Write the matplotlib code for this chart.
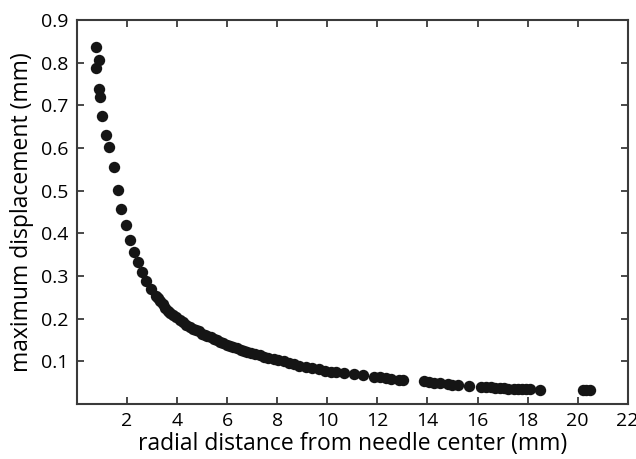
import matplotlib
matplotlib.use("Agg")
import matplotlib.pyplot as plt
import numpy as np

# radial distance from needle center (mm)
radial_mm = [
    0.75, 0.89, 0.76, 0.87, 0.91, 1.01, 1.15, 1.29, 1.48, 1.62, 1.76,
    1.94, 2.10, 2.26, 2.44, 2.58, 2.77, 2.97, 3.15, 3.25, 3.33, 3.43,
    3.53, 3.63, 3.73, 3.85, 3.97, 4.10, 4.24, 4.37, 4.50, 4.62, 4.75,
    4.86, 5.00, 5.10, 5.20, 5.35, 5.48, 5.60, 5.72, 5.85, 6.00, 6.12,
    6.25, 6.40, 6.55, 6.68, 6.80, 6.95, 7.13, 7.30, 7.47, 7.65, 7.87,
    8.05, 8.27, 8.45, 8.67, 8.85, 9.14, 9.40, 9.67, 9.90, 10.14, 10.34,
    10.67, 11.07, 11.41, 11.88, 12.10, 12.34, 12.55, 12.85, 13.01, 13.88,
    14.05, 14.28, 14.50, 14.82, 15.00, 15.22, 15.64, 16.15, 16.35, 16.55,
    16.69, 16.90, 17.05, 17.22, 17.45, 17.60, 17.76, 17.95, 18.09, 18.49,
    20.23, 20.35, 20.49,
]

# maximum displacement (mm)
max_disp_mm = [
    0.836, 0.806, 0.787, 0.738, 0.720, 0.675, 0.630, 0.603, 0.555, 0.501, 0.456,
    0.419, 0.385, 0.357, 0.332, 0.309, 0.288, 0.270, 0.254, 0.248, 0.242, 0.234,
    0.226, 0.219, 0.213, 0.208, 0.203, 0.198, 0.193, 0.186, 0.180, 0.176, 0.173,
    0.170, 0.165, 0.162, 0.160, 0.156, 0.152, 0.149, 0.146, 0.142, 0.139, 0.136,
    0.134, 0.131, 0.127, 0.124, 0.122, 0.119, 0.117, 0.114, 0.110, 0.108, 0.105,
    0.102, 0.100, 0.097, 0.093, 0.090, 0.087, 0.084, 0.081, 0.078, 0.075, 0.074,
    0.072, 0.070, 0.067, 0.064, 0.062, 0.060, 0.059, 0.057, 0.056, 0.053,
    0.052, 0.050, 0.048, 0.046, 0.045, 0.044, 0.043, 0.040, 0.040, 0.039,
    0.038, 0.037, 0.037, 0.036, 0.036, 0.035, 0.035, 0.034, 0.034, 0.033,
    0.033, 0.033, 0.032,
]

x_ticks = [2, 4, 6, 8, 10, 12, 14, 16, 18, 20, 22]
y_ticks = [0.1, 0.2, 0.3, 0.4, 0.5, 0.6, 0.7, 0.8, 0.9]

plt.rcParams['font.family'] = ['Open Sans', 'DejaVu Sans']

fig = plt.figure(figsize=(6.36, 4.59), dpi=100)
ax = fig.add_axes([0.121, 0.120, 0.866, 0.836])

ax.plot(radial_mm, max_disp_mm, 'o', color="#151515", markersize=8.2,
        markeredgewidth=0, clip_on=False)

ax.set_xlim(0, 22)
ax.set_ylim(0, 0.9)
ax.set_xticks(x_ticks)
ax.set_yticks(y_ticks)
ax.set_xticklabels([str(t) for t in x_ticks])
ax.set_yticklabels(["{:.1f}".format(t) for t in y_ticks])

axis_color = "#3a3a3a"
for side in ax.spines.values():
    side.set_color(axis_color)
    side.set_linewidth(1.5)

ax.tick_params(direction='in', length=5, width=1.3, color=axis_color,
               top=True, right=True, labelsize=14, pad=6)

ax.set_xlabel("radial distance from needle center (mm)", fontsize=16.5, labelpad=1)
ax.set_ylabel("maximum displacement (mm)", fontsize=16.5, labelpad=5)

fig.savefig("out.png", dpi=100)
